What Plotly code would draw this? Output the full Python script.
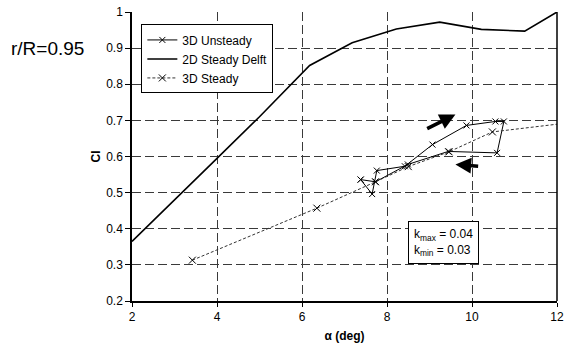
import plotly.graph_objects as go

# 2D steady polar (Delft)
delft_alpha = [2.0, 3.1, 4.0, 5.0, 6.18, 7.18, 8.22, 9.24, 10.22, 11.24, 12.0]
delft_cl = [0.365, 0.49, 0.595, 0.71, 0.852, 0.915, 0.953, 0.972, 0.952, 0.947, 1.0]

# 3D steady computation
steady_alpha = [3.42, 6.35, 7.73, 8.5, 9.46, 10.48, 12.4]
steady_cl = [0.313, 0.457, 0.53, 0.572, 0.613, 0.668, 0.695]

# 3D unsteady hysteresis loop
unsteady_alpha = [7.38, 7.65, 7.76, 8.42, 9.07, 9.87, 10.55, 10.75, 10.59, 9.44, 8.49, 7.73, 7.38]
unsteady_cl = [0.536, 0.496, 0.561, 0.573, 0.633, 0.686, 0.697, 0.697, 0.61, 0.614, 0.578, 0.530, 0.536]

x_ticks = [2, 4, 6, 8, 10, 12]
y_ticks = [0.2, 0.3, 0.4, 0.5, 0.6, 0.7, 0.8, 0.9, 1.0]

FONT = "Liberation Sans, Arial, sans-serif"

fig = go.Figure()

fig.add_trace(go.Scatter(
    x=unsteady_alpha, y=unsteady_cl, name="3D Unsteady",
    mode="lines+markers",
    line=dict(color="black", width=1),
    marker=dict(symbol="x-thin", size=6, line=dict(color="black", width=1)),
))
fig.add_trace(go.Scatter(
    x=delft_alpha, y=delft_cl, name="2D Steady Delft",
    mode="lines",
    line=dict(color="black", width=1.6),
))
fig.add_trace(go.Scatter(
    x=steady_alpha, y=steady_cl, name="3D Steady",
    mode="lines+markers",
    line=dict(color="#333333", width=1, dash="3px,2px"),
    marker=dict(symbol="x-thin", size=7, line=dict(color="black", width=1)),
))

grid = dict(showgrid=True, gridcolor="#3a3a3a", gridwidth=1, griddash="9px,4px")

fig.update_xaxes(
    range=[2, 12], tickvals=x_ticks, ticktext=[str(v) for v in x_ticks],
    showline=True, linecolor="black", linewidth=1.5, mirror=False,
    ticks="outside", ticklen=4, tickcolor="black", automargin=False,
    zeroline=False, tickfont=dict(size=12, color="black", family=FONT),
    title=dict(text="<b>α (deg)</b>", font=dict(size=12, color="black", family=FONT), standoff=10),
    **grid,
)
fig.update_yaxes(
    range=[0.2, 1.0], tickvals=y_ticks, ticktext=[f"{v:g}" for v in y_ticks],
    showline=True, linecolor="black", linewidth=1.5,
    ticks="outside", ticklen=5, tickcolor="black", automargin=False,
    zeroline=False, tickfont=dict(size=12, color="black", family=FONT),
    **grid,
)

# y-axis title, placed close to the tick labels
fig.add_annotation(
    x=-0.085, y=0.5, xref="paper", yref="paper", xanchor="center", yanchor="middle",
    text="<b>Cl</b>", textangle=-90, showarrow=False,
    font=dict(size=12, color="black", family=FONT),
)

# right-hand frame line
fig.add_shape(type="line", xref="paper", yref="paper", x0=1, x1=1, y0=0, y1=1,
              line=dict(color="black", width=1.5))

# direction arrows around the loop
fig.add_annotation(x=9.61, y=0.716, ax=8.91, ay=0.675, xref="x", yref="y",
                   axref="x", ayref="y", showarrow=True, arrowhead=2,
                   arrowsize=0.9, arrowwidth=3.5, arrowcolor="black", text="")
fig.add_annotation(x=9.61, y=0.578, ax=10.18, ay=0.573, xref="x", yref="y",
                   axref="x", ayref="y", showarrow=True, arrowhead=2,
                   arrowsize=0.9, arrowwidth=3.5, arrowcolor="black", text="")

# reduced frequency box
fig.add_annotation(
    x=0.65, y=0.277, xref="paper", yref="paper", xanchor="left", yanchor="top",
    text="k<sub>max</sub> = 0.04<br>k<sub>min</sub> = 0.03", showarrow=False,
    align="left", font=dict(size=12, color="black", family=FONT),
    bordercolor="black", borderwidth=1, borderpad=5, bgcolor="white",
)

# radial station label
fig.add_annotation(
    x=-0.2, y=0.875, xref="paper", yref="paper", xanchor="center", yanchor="middle",
    text="r/R=0.95", showarrow=False,
    font=dict(size=19, color="black", family=FONT),
)

fig.update_layout(
    width=566, height=343,
    margin=dict(l=132, r=9, t=12, b=42),
    paper_bgcolor="white", plot_bgcolor="white",
    font=dict(family=FONT, color="black"),
    showlegend=True,
    legend=dict(
        x=0.022, y=0.957, xanchor="left", yanchor="top",
        bordercolor="black", borderwidth=1, bgcolor="white",
        font=dict(size=12, color="black", family=FONT),
        tracegroupgap=0, itemwidth=30,
    ),
)

fig.write_html("out.html")
